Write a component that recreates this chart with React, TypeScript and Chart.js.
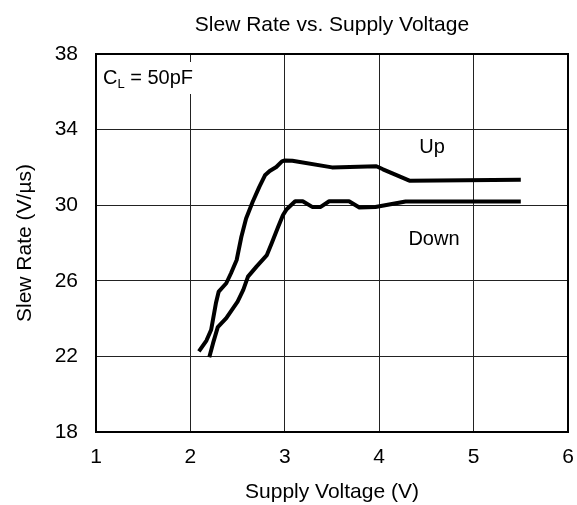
import React, { useEffect, useRef } from "react";
import { Chart, registerables } from "chart.js";

Chart.register(...registerables);

const TITLE = "Slew Rate vs. Supply Voltage";
const X_TITLE = "Supply Voltage (V)";
const Y_TITLE = "Slew Rate (V/\u00b5s)";

const upX = [2.09, 2.17, 2.22, 2.27, 2.30, 2.38, 2.43, 2.49, 2.54, 2.59, 2.66, 2.73, 2.79, 2.84, 2.91, 2.97, 3.00, 3.08, 3.50, 3.97, 4.04, 4.32, 5.50];
const upY = [22.26, 22.84, 23.41, 24.81, 25.43, 25.87, 26.40, 27.10, 28.33, 29.30, 30.18, 30.97, 31.58, 31.81, 32.02, 32.32, 32.37, 32.35, 32.0, 32.06, 31.9, 31.3, 31.35];

const downX = [2.20, 2.24, 2.29, 2.38, 2.50, 2.56, 2.61, 2.70, 2.81, 2.86, 2.93, 2.98, 3.02, 3.11, 3.19, 3.29, 3.38, 3.47, 3.68, 3.79, 3.96, 4.28, 5.50];
const downY = [21.95, 22.70, 23.55, 24.02, 24.90, 25.52, 26.22, 26.75, 27.36, 27.98, 28.86, 29.47, 29.79, 30.21, 30.21, 29.91, 29.91, 30.21, 30.21, 29.88, 29.9, 30.2, 30.2];

const xTicks = [1, 2, 3, 4, 5, 6];
const yTicks = [18, 22, 26, 30, 34, 38];

const seriesLabels = ["Up", "Down"];
const labelPos = [
  { x: 4.56, y: 33.05 },
  { x: 4.58, y: 28.2 },
];

const FONT = "'Liberation Sans', Arial, sans-serif";

const decorPlugin = {
  id: "decor",
  afterDatasetsDraw(chart: any) {
    const { ctx, chartArea, scales } = chart;
    const { left, right, top, bottom } = chartArea;
    ctx.save();
    // border
    ctx.strokeStyle = "#000";
    ctx.lineWidth = 2;
    ctx.strokeRect(left, top, right - left, bottom - top);
    // title
    ctx.fillStyle = "#000";
    ctx.font = `21px ${FONT}`;
    ctx.textAlign = "center";
    ctx.textBaseline = "middle";
    ctx.fillText(TITLE, (left + right) / 2, 25);
    // series labels
    ctx.font = `20px ${FONT}`;
    seriesLabels.forEach((s, i) => {
      ctx.fillText(s, scales.x.getPixelForValue(labelPos[i].x), scales.y.getPixelForValue(labelPos[i].y));
    });
    // CL box
    ctx.fillStyle = "#fff";
    ctx.fillRect(left + 1, top + 8, 96, 32);
    ctx.fillStyle = "#000";
    ctx.textAlign = "left";
    ctx.textBaseline = "alphabetic";
    ctx.font = `20px ${FONT}`;
    const bx = left + 7;
    const by = top + 30;
    ctx.fillText("C", bx, by);
    const cw = ctx.measureText("C").width;
    ctx.font = `13px ${FONT}`;
    ctx.fillText("L", bx + cw, by + 4);
    const lw = ctx.measureText("L").width;
    ctx.font = `20px ${FONT}`;
    ctx.fillText(" = 50pF", bx + cw + lw, by);
    ctx.restore();
  },
};

export default function App() {
  const ref = useRef<HTMLCanvasElement>(null);
  useEffect(() => {
    document.body.style.margin = "0";
    const canvas = ref.current!;
    const chart = new Chart(canvas, {
      type: "line",
      data: {
        datasets: [
          {
            label: "Up",
            data: upX.map((x, i) => ({ x, y: upY[i] })),
            borderColor: "#000",
            borderWidth: 4,
            pointRadius: 0,
            borderJoinStyle: "round",
            tension: 0,
          },
          {
            label: "Down",
            data: downX.map((x, i) => ({ x, y: downY[i] })),
            borderColor: "#000",
            borderWidth: 4,
            pointRadius: 0,
            borderJoinStyle: "round",
            tension: 0,
          },
        ],
      },
      options: {
        animation: false,
        responsive: false,
        devicePixelRatio: 1,
        layout: { padding: { top: 54, right: 9, left: 0, bottom: 0 } },
        plugins: {
          legend: { display: false },
          title: { display: false },
          tooltip: { enabled: false },
        },
        scales: {
          x: {
            type: "linear",
            min: 1,
            max: 6,
            afterBuildTicks: (s: any) => {
              s.ticks = xTicks.map((v) => ({ value: v }));
            },
            afterFit: (s: any) => {
              s.height = 73;
              s.paddingLeft = 0;
              s.paddingRight = 0;
            },
            ticks: { color: "#000", font: { family: FONT, size: 21 }, padding: 13 },
            grid: {
              drawTicks: false,
              color: "#222",
              lineWidth: 1,
            },
            border: { display: false },
            title: {
              display: true,
              text: X_TITLE,
              color: "#000",
              font: { family: FONT, size: 21 },
              padding: { top: 0, bottom: 0 },
            },
          },
          y: {
            type: "linear",
            min: 18,
            max: 38,
            afterBuildTicks: (s: any) => {
              s.ticks = yTicks.map((v) => ({ value: v }));
            },
            afterFit: (s: any) => {
              s.width = 96;
              s.paddingTop = 0;
              s.paddingBottom = 0;
            },
            ticks: { color: "#000", font: { family: FONT, size: 21 }, padding: 18 },
            grid: {
              drawTicks: false,
              color: "#222",
              lineWidth: 1,
            },
            border: { display: false },
            title: {
              display: true,
              text: Y_TITLE,
              color: "#000",
              font: { family: FONT, size: 21 },
              padding: { top: 13, bottom: 0 },
            },
          },
        },
      },
      plugins: [decorPlugin],
    });
    return () => chart.destroy();
  }, []);
  return (
    <div style={{ position: "absolute", left: 0, top: 0, width: 577, height: 505 }}>
      <canvas ref={ref} width={577} height={505} style={{ width: 577, height: 505, display: "block" }} />
    </div>
  );
}
